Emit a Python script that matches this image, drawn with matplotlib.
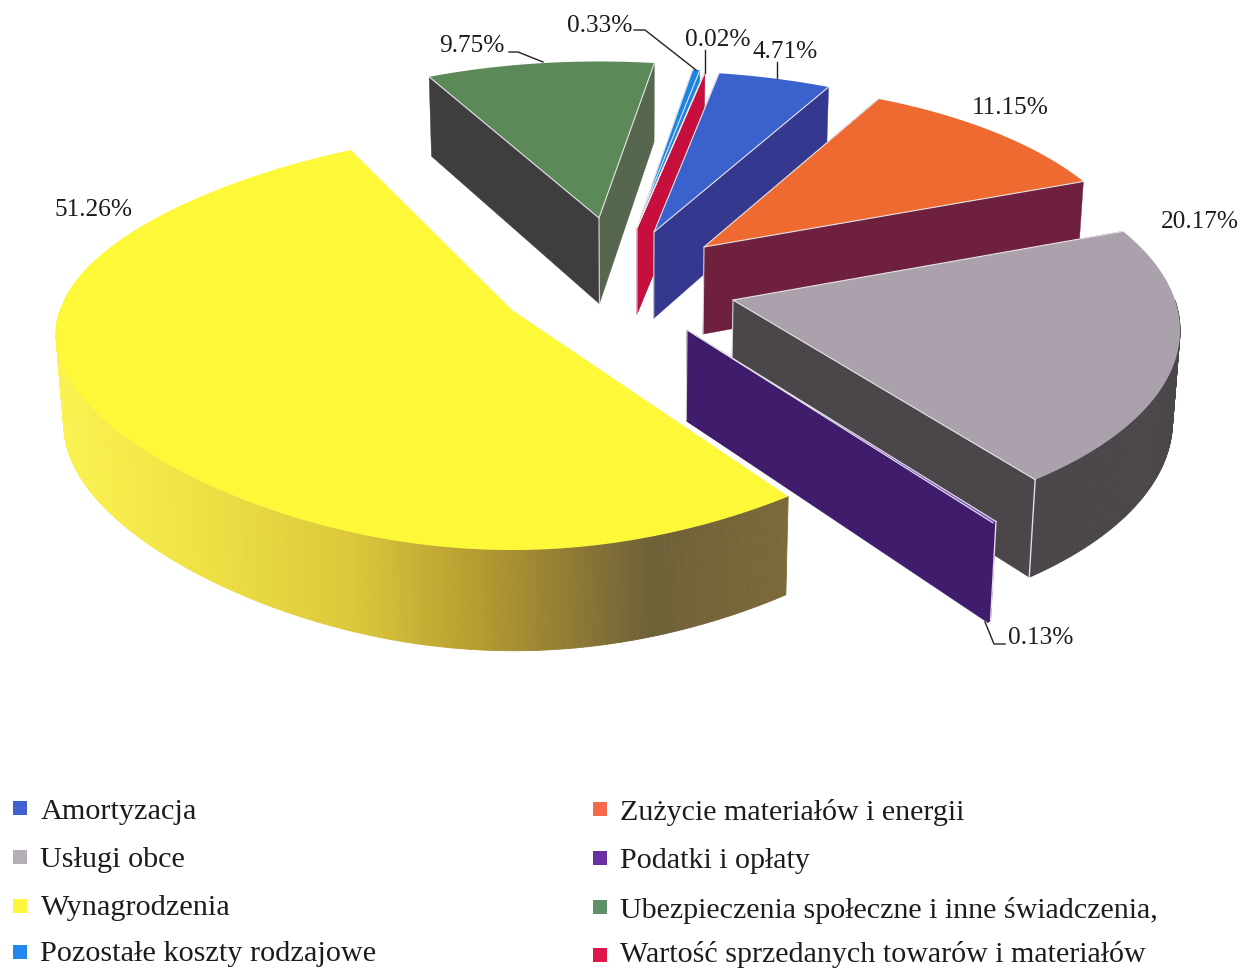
import numpy as np
import matplotlib
matplotlib.use("Agg")
import matplotlib.pyplot as plt
from matplotlib.collections import PolyCollection
from matplotlib.colors import to_rgb

categories = ["Amortyzacja", "Zużycie materiałów i energii", "Usługi obce", "Podatki i opłaty",
              "Wynagrodzenia", "Ubezpieczenia społeczne i inne świadczenia,",
              "Pozostałe koszty rodzajowe", "Wartość sprzedanych towarów i materiałów"]
values = [4.71, 11.15, 20.17, 0.13, 51.26, 9.75, 0.33, 0.02]

top_colors = ["#3b62cc", "#ef6a30", "#aaa1ac", "#8257c4", "#fdf838", "#5b8a58", "#1c84e2", "#cc0f3e"]
wall_colors = ["#34398f", "#70203f", "#4a464a", "#3f1c6c", "#7a6a34", "#403d40", "#1c84e2", "#c60f3c"]
end_wall_colors = ["#34398f", "#70203f", "#4a464a", "#3f1c6c", "#7a6a34", "#56664f", "#1c84e2", "#c60f3c"]
legend_colors = ["#3f62d0", "#f4694a", "#b5aeb8", "#6a2fa0", "#fdf63c", "#5f9068", "#2088ee", "#e0174a"]

START = 10.0
K = 0.15
# per-slice geometry in figure pixels: apex x, apex y, x radius, y radius, rim squeeze
apex_x = [654, 704, 733, 687, 512, 599, 641, 637]
apex_y = [232, 247, 300, 330, 310, 218, 216, 228]
rad_x = [430, 430, 442, 452, 452, 420, 392, 448]
rad_y = [185, 189, 198, 211, 204, 180, 170, 181]
squeeze = [0, 0, 0, 0, 0.15, 0, 0, 0]
order = [5, 6, 7, 0, 1, 2, 3, 4]

yellow_x = [787, 650, 480, 350, 180, 60]
yellow_c = ["#7c6a3a", "#6e6038", "#b59a30", "#dcc83a", "#f0e445", "#faf250"]

label_pos = [(785, 52.5), (1010, 108.5), (1200, 222.5), (1041, 637.5), (94, 209.5), (472, 46.5), (600, 25.5), (718, 39.5)]
leaders = [[(777, 62), (777, 78)], None, None, [(985, 622), (994, 644), (1005, 644)], None,
           [(509, 52), (518, 52), (543, 62)], [(634, 30), (645, 30), (696, 70)], [(705, 50), (705, 73)]]

plt.rcParams["font.family"] = ["Liberation Serif", "DejaVu Serif"]
fig = plt.figure(figsize=(12.43, 9.68), dpi=100)
ax = fig.add_axes([0, 0, 1, 1])
ax.set_xlim(0, 1243)
ax.set_ylim(968, 0)
ax.axis("off")

shares = np.array(values) / sum(values) * 360
starts = START + np.concatenate([[0], np.cumsum(shares)[:-1]])
ends = starts + shares


def rim(i, deg):
    t = np.radians(deg)
    X, Y = np.sin(t), -np.cos(t)
    w = 1 - K * Y
    return (apex_x[i] + rad_x[i] * X / w * (1 - squeeze[i] * Y ** 2),
            apex_y[i] + rad_y[i] * Y / w)


def drop(x, y):
    # vertical edges grow towards the viewer and converge slightly downwards
    x, y = np.asarray(x, float), np.asarray(y, float)
    d = 76 + 0.045 * y
    return x - (x - 630) * 0.015 * d / 100, y + d


def radial_wall(i, deg, color, z):
    x1, y1 = rim(i, deg)
    x0, y0 = apex_x[i], apex_y[i]
    bx0, by0 = drop(x0, y0)
    bx1, by1 = drop(x1, y1)
    ax.fill([x0, x1, bx1, bx0], [y0, y1, by1, by0], facecolor=color, edgecolor=color, lw=0.3, zorder=z)


for rank, i in enumerate(order):
    z = 10 + rank * 5
    a, b = starts[i], ends[i]
    n = max(int((b - a) * 2), 2)
    thetas = np.linspace(a, b, n + 1)
    xs, ys = rim(i, thetas)

    # radial walls: the one turned away from the viewer goes first
    if i != 4:
        start_front = -np.cos(np.radians(a - 90)) > 0
        end_front = -np.cos(np.radians(b + 90)) > 0
        walls = [(start_front, a, wall_colors[i]), (end_front, b, end_wall_colors[i])]
        for front, deg, col in sorted(walls, key=lambda w: w[0]):
            radial_wall(i, deg, col, z + (1 if front else 0))

    # outer wall
    bx, by = drop(xs, ys)
    polys, cols = [], []
    for j in range(n):
        if 90 < thetas[j] + 0.01 and thetas[j + 1] - 0.01 < 270:
            polys.append([(xs[j], ys[j]), (xs[j + 1], ys[j + 1]), (bx[j + 1], by[j + 1]), (bx[j], by[j])])
            if i == 4:
                mid = (xs[j] + xs[j + 1]) / 2
                rgb = [np.interp(mid, yellow_x[::-1], [to_rgb(c)[k] for c in yellow_c[::-1]]) for k in range(3)]
            else:
                rgb = to_rgb(wall_colors[i])
            cols.append(rgb)
    if polys:
        ax.add_collection(PolyCollection(polys, facecolors=cols, edgecolors=cols, linewidths=0.6, zorder=z + 2))

    # top face
    px = np.concatenate([[apex_x[i]], xs])
    py = np.concatenate([[apex_y[i]], ys])
    ax.fill(px, py, facecolor=top_colors[i], edgecolor="none", zorder=z + 3)
    if i != 4:
        ax.plot([xs[0], apex_x[i], xs[-1]], [ys[0], apex_y[i], ys[-1]], color="#e6e4e6", lw=0.8, zorder=z + 3)
        bx0, by0 = drop(apex_x[i], apex_y[i])
        ax.plot([apex_x[i], bx0], [apex_y[i], by0], color="#d8d6d8", lw=0.8, zorder=z + 2)
    if i in (2, 3):
        k = -1 if i == 2 else 0
        ax.plot([xs[k], bx[k]], [ys[k], by[k]], color="#e8d8f0", lw=1.0, zorder=z + 3)

# percentage labels and leader lines
for v, (x, y), line in zip(values, label_pos, leaders):
    ax.text(x, y, f"{v:.2f}%", ha="center", va="center", fontsize=18.3, color="#1c1c1c", zorder=100)
    if line:
        ax.plot(*zip(*line), color="#222222", lw=1.0, zorder=100)

# legend: category index, marker x, marker y, text y, font size
legend_rows = [(0, 20, 808, 812, 21.8), (2, 20, 857, 860, 21.8), (4, 20, 906, 908, 21.8), (6, 20, 952, 954, 21.8),
               (1, 600, 809, 813, 21.6), (3, 600, 858, 861, 21.6), (5, 600, 907, 910, 21.6), (7, 600, 955, 954, 21.6)]
for i, x, y, ty, fs in legend_rows:
    ax.scatter([x], [y], marker="s", s=95, color=legend_colors[i], linewidths=0, zorder=100)
    ax.text(x + 20.5, ty, categories[i], ha="left", va="center", fontsize=fs, color="#1c1c1c", zorder=100)

fig.savefig("out.png", dpi=100, facecolor="white")
